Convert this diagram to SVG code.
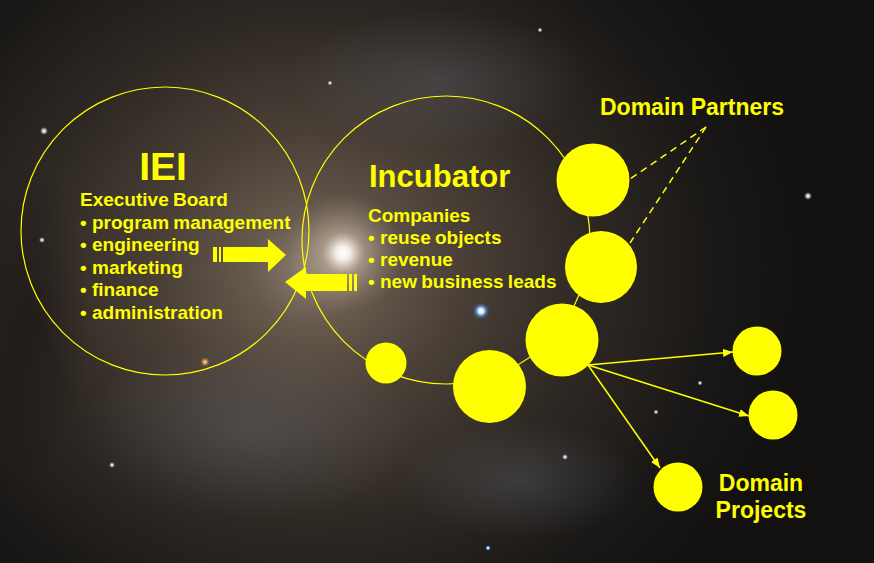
<svg xmlns="http://www.w3.org/2000/svg" width="874" height="563" viewBox="0 0 874 563">
<defs>
<radialGradient id="glow" cx="310" cy="270" r="500" gradientUnits="userSpaceOnUse" gradientTransform="translate(310 270) scale(1 0.9) translate(-310 -270)">
<stop offset="0" stop-color="#8c7e70"/>
<stop offset="0.12" stop-color="#66594d"/>
<stop offset="0.3" stop-color="#4a4037"/>
<stop offset="0.55" stop-color="#2f2924"/>
<stop offset="0.8" stop-color="#1b1917"/>
<stop offset="1" stop-color="#121110"/>
</radialGradient>
<radialGradient id="core" cx="343" cy="253" r="60" gradientUnits="userSpaceOnUse">
<stop offset="0" stop-color="#ffffff"/>
<stop offset="0.12" stop-color="#f4ede4"/>
<stop offset="0.35" stop-color="#b8a896" stop-opacity="0.7"/>
<stop offset="1" stop-color="#8c7e70" stop-opacity="0"/>
</radialGradient>
<radialGradient id="arm" cx="0.5" cy="0.5" r="0.5">
<stop offset="0" stop-color="#6f7684" stop-opacity="0.28"/>
<stop offset="1" stop-color="#6f7684" stop-opacity="0"/>
</radialGradient>
<radialGradient id="dark" cx="0.5" cy="0.5" r="0.5">
<stop offset="0" stop-color="#0e0c0b" stop-opacity="0.4"/>
<stop offset="1" stop-color="#0e0c0b" stop-opacity="0"/>
</radialGradient>
<radialGradient id="star" cx="0.5" cy="0.5" r="0.5">
<stop offset="0" stop-color="#ffffff"/>
<stop offset="0.4" stop-color="#e8eef8" stop-opacity="0.8"/>
<stop offset="1" stop-color="#9fb4d8" stop-opacity="0"/>
</radialGradient>
<radialGradient id="bstar" cx="0.5" cy="0.5" r="0.5">
<stop offset="0" stop-color="#ffffff"/>
<stop offset="0.3" stop-color="#d8e8ff"/>
<stop offset="0.6" stop-color="#4f86c0" stop-opacity="0.7"/>
<stop offset="1" stop-color="#2a5080" stop-opacity="0"/>
</radialGradient>
<radialGradient id="ostar" cx="0.5" cy="0.5" r="0.5">
<stop offset="0" stop-color="#fff4d8"/>
<stop offset="0.4" stop-color="#e0a860" stop-opacity="0.8"/>
<stop offset="1" stop-color="#a06020" stop-opacity="0"/>
</radialGradient>
<marker id="ah" viewBox="0 0 10 8" refX="10" refY="4" markerWidth="10" markerHeight="8" markerUnits="userSpaceOnUse" orient="auto">
<path d="M0,0 L10,4 L0,8 Z" fill="#ffff00"/>
</marker>
<style>
.ring{fill:none;stroke:#ffff00;stroke-width:1.2}
.dot{fill:#ffff00}
.t{fill:#ffff00;font-family:"Liberation Sans",Arial,sans-serif;font-weight:bold}
.b{font-size:19px;word-spacing:-1px}
.link{stroke:#ffff00;stroke-width:1.5;fill:none}
.dash{stroke:#ffff00;stroke-width:1.5;stroke-dasharray:7 5;fill:none}
.fat{fill:#ffff00}
</style>
</defs>

<g id="background">
<rect width="874" height="563" fill="#121110"/>
<rect width="874" height="563" fill="url(#glow)"/>
<ellipse cx="250" cy="430" rx="170" ry="90" fill="url(#arm)"/>
<ellipse cx="440" cy="80" rx="150" ry="70" fill="url(#arm)"/>
<ellipse cx="520" cy="480" rx="120" ry="60" fill="url(#arm)"/>
<ellipse cx="30" cy="320" rx="60" ry="160" fill="url(#dark)"/>
<ellipse cx="343" cy="253" rx="60" ry="60" fill="url(#core)"/>
<circle cx="481" cy="311" r="9" fill="url(#bstar)"/>
<circle cx="44" cy="131" r="4" fill="url(#star)"/>
<circle cx="42" cy="240" r="3" fill="url(#star)"/>
<circle cx="205" cy="362" r="5" fill="url(#ostar)"/>
<circle cx="808" cy="196" r="4" fill="url(#star)"/>
<circle cx="565" cy="457" r="3" fill="url(#star)"/>
<circle cx="656" cy="412" r="2.5" fill="url(#star)"/>
<circle cx="700" cy="383" r="2.5" fill="url(#star)"/>
<circle cx="112" cy="465" r="3" fill="url(#star)"/>
<circle cx="330" cy="83" r="2.5" fill="url(#star)"/>
<circle cx="540" cy="30" r="2.5" fill="url(#star)"/>
<circle cx="488" cy="548" r="3" fill="url(#bstar)"/>
</g>

<g id="iei">
<circle class="ring" cx="165" cy="231" r="144"/>
<text class="t" x="163" y="180" font-size="39" text-anchor="middle">IEI</text>
<text class="t b">
<tspan x="80" y="206">Executive Board</tspan>
<tspan x="80" y="228.5">•</tspan><tspan x="92" y="228.5">program management</tspan>
<tspan x="80" y="251">•</tspan><tspan x="92" y="251">engineering</tspan>
<tspan x="80" y="273.5">•</tspan><tspan x="92" y="273.5">marketing</tspan>
<tspan x="80" y="296">•</tspan><tspan x="92" y="296">finance</tspan>
<tspan x="80" y="318.5">•</tspan><tspan x="92" y="318.5">administration</tspan>
</text>
</g>

<g id="incubator">
<circle class="ring" cx="446" cy="240" r="144"/>
<text class="t" x="369" y="187" font-size="31">Incubator</text>
<text class="t b">
<tspan x="368" y="222">Companies</tspan>
<tspan x="368" y="244">•</tspan><tspan x="380" y="244">reuse objects</tspan>
<tspan x="368" y="266">•</tspan><tspan x="380" y="266">revenue</tspan>
<tspan x="368" y="288">•</tspan><tspan x="380" y="288">new business leads</tspan>
</text>
</g>

<g id="exchange-arrows">
<path class="fat" d="M213,247 H217 V262 H213 Z M219,247 H221 V262 H219 Z M223,247 H268 V239 L286,255 L268,272 V262 H223 Z"/>
<path class="fat" d="M285,282 L306,267 V274 H347 V291 H306 V299 Z M349,274 H352 V291 H349 Z M354,274 H357 V291 H354 Z"/>
</g>

<g id="connectors">
<line class="dash" x1="706" y1="127" x2="630" y2="179"/>
<line class="dash" x1="706" y1="127" x2="630" y2="243"/>
<line class="link" x1="588" y1="365" x2="733" y2="352" marker-end="url(#ah)"/>
<line class="link" x1="588" y1="365" x2="749" y2="416" marker-end="url(#ah)"/>
<line class="link" x1="588" y1="365" x2="660" y2="468" marker-end="url(#ah)"/>
</g>

<g id="partner-1"><circle class="dot" cx="593" cy="180" r="36.5"/></g>
<g id="partner-2"><circle class="dot" cx="601" cy="267" r="36"/></g>
<g id="company-hub"><circle class="dot" cx="562" cy="340" r="36.5"/></g>
<g id="company-2"><circle class="dot" cx="489.5" cy="386.5" r="36.5"/></g>
<g id="company-3"><circle class="dot" cx="386" cy="363" r="20.5"/></g>
<g id="project-1"><circle class="dot" cx="757" cy="351" r="24.5"/></g>
<g id="project-2"><circle class="dot" cx="773" cy="415" r="24.5"/></g>
<g id="project-3"><circle class="dot" cx="678" cy="487" r="24.5"/></g>

<g id="labels">
<text class="t" x="600" y="115" font-size="23">Domain Partners</text>
<text class="t" x="761" y="491" font-size="23" text-anchor="middle">Domain</text>
<text class="t" x="761" y="518" font-size="23" text-anchor="middle">Projects</text>
</g>
</svg>
